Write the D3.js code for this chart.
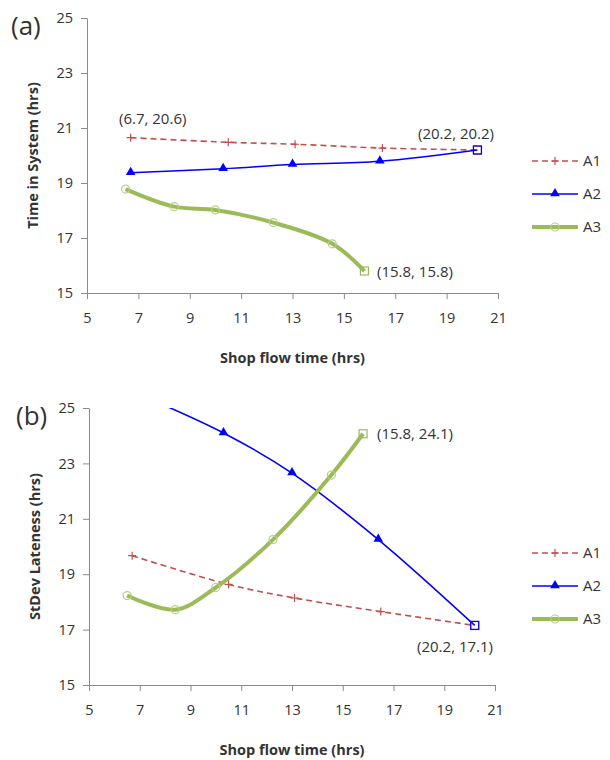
<!DOCTYPE html>
<html>
<head>
<meta charset="utf-8">
<script src="https://cdn.jsdelivr.net/npm/d3@7"></script>
<style>
  body { margin: 0; background: #fff; }
  text { font-family: "Open Sans", "Liberation Sans", sans-serif; fill: #333; }
</style>
</head>
<body>
<svg id="chart" width="610" height="760"></svg>
<script>
// shop flow time (x) for each series, shared by both panels
var xA1 = [6.7, 10.5, 13.1, 16.5, 20.2];
var xA2 = [6.7, 10.3, 13.0, 16.4, 20.2];
var xA3 = [6.5, 8.4, 10.0, 12.25, 14.55, 15.8];

// panel (a): time in system
var tisA1 = [20.65, 20.48, 20.41, 20.27, 20.2];
var tisA2 = [19.37, 19.52, 19.67, 19.79, 20.2];
var tisA3 = [18.78, 18.14, 18.02, 17.56, 16.79, 15.8];

// panel (b): stdev lateness
var sdA1 = [19.67, 18.63, 18.14, 17.65, 17.15];
var sdA2 = [25.6, 24.1, 22.65, 20.25, 17.15];
var sdA3 = [18.23, 17.72, 18.52, 20.25, 22.58, 24.07];

var seriesNames = ["A1", "A2", "A3"];
var xTicks = [5, 7, 9, 11, 13, 15, 17, 19, 21];
var yTicks = [15, 17, 19, 21, 23, 25];

var colors = {A1: "#C0504D", A2: "#0000FF", A3: "#9BBB59"};

var svg = d3.select("#chart");

function drawPanel(opt) {
  var x = d3.scaleLinear().domain([5, 21]).range([opt.left, opt.right]);
  var y = d3.scaleLinear().domain([15, 25]).range([opt.bottom, opt.top]);
  var g = svg.append("g");

  var clipId = "clip-" + opt.id;
  svg.append("clipPath").attr("id", clipId)
    .append("rect")
    .attr("x", opt.left).attr("y", opt.top)
    .attr("width", opt.right - opt.left + 20)
    .attr("height", opt.bottom - opt.top);

  // axes
  var xAxis = g.append("g")
    .attr("transform", "translate(0," + opt.bottom + ")")
    .call(d3.axisBottom(x).tickValues(xTicks).tickSize(6).tickSizeOuter(0).tickPadding(14));
  var yAxis = g.append("g")
    .attr("transform", "translate(" + opt.left + ",0)")
    .call(d3.axisLeft(y).tickValues(yTicks).tickSize(6).tickSizeOuter(0).tickPadding(8));
  [xAxis, yAxis].forEach(function(a) {
    a.select(".domain").attr("stroke", "#8a8a8a");
    a.selectAll(".tick line").attr("stroke", "#8a8a8a");
    a.selectAll(".tick text").style("font-size", "14.5px").attr("fill", "#333")
      .style("font-family", "'Open Sans', sans-serif");
  });

  g.append("text")
    .attr("x", (opt.left + opt.right) / 2).attr("y", opt.bottom + 70)
    .attr("text-anchor", "middle")
    .style("font-size", "14.5px").style("font-weight", "bold")
    .text("Shop flow time (hrs)");

  g.append("text")
    .attr("transform", "translate(" + opt.ytitleX + "," + ((opt.top + opt.bottom) / 2) + ") rotate(-90)")
    .attr("text-anchor", "middle")
    .attr("dy", "0.35em")
    .style("font-size", "14.5px").style("font-weight", "bold")
    .text(opt.ytitle);

  g.append("text")
    .attr("x", opt.tagX).attr("y", opt.top + 17)
    .style("font-size", "26px")
    .text(opt.tag);

  var series = [
    {name: "A1", xs: xA1, ys: opt.ys[0]},
    {name: "A2", xs: xA2, ys: opt.ys[1]},
    {name: "A3", xs: xA3, ys: opt.ys[2]}
  ];

  var line = d3.line()
    .x(function(d) { return x(d[0]); })
    .y(function(d) { return y(d[1]); })
    .curve(d3.curveCatmullRom.alpha(0.5));

  var plot = g.append("g").attr("clip-path", "url(#" + clipId + ")");

  series.forEach(function(s) {
    var pts = s.xs.map(function(v, i) { return [v, s.ys[i]]; });
    plot.append("path")
      .datum(pts)
      .attr("fill", "none")
      .attr("stroke", colors[s.name])
      .attr("stroke-width", s.name == "A3" ? 4 : 1.6)
      .attr("stroke-dasharray", s.name == "A1" ? "6,4" : null)
      .attr("d", line);
  });

  series.forEach(function(s) {
    var pts = s.xs.map(function(v, i) { return [v, s.ys[i]]; });
    var last = pts.length - 1;
    pts.forEach(function(p, i) {
      if (p[1] > 25) return;
      var cx = x(p[0]), cy = y(p[1]);
      if (i == last) {
        g.append("rect")
          .attr("x", cx - 4).attr("y", cy - 4).attr("width", 8).attr("height", 8)
          .attr("fill", "none").attr("stroke", colors[s.name]).attr("stroke-width", 1.2);
      } else {
        drawMarker(g, s.name, cx, cy);
      }
    });
  });

  // endpoint annotations
  opt.notes.forEach(function(n) {
    g.append("text")
      .attr("x", n.px).attr("y", n.py)
      .attr("text-anchor", n.anchor)
      .attr("dy", "0.35em")
      .style("font-size", "15px")
      .text(n.text);
  });

  // legend
  seriesNames.forEach(function(name, i) {
    var ly = opt.legendY + i * 33;
    g.append("line")
      .attr("x1", 532).attr("x2", 578).attr("y1", ly).attr("y2", ly)
      .attr("stroke", colors[name])
      .attr("stroke-width", name == "A3" ? 4 : 1.6)
      .attr("stroke-dasharray", name == "A1" ? "6,4" : null);
    drawMarker(g, name, 555, ly);
    g.append("text")
      .attr("x", 583).attr("y", ly).attr("dy", "0.35em")
      .style("font-size", "15px")
      .text(name);
  });
}

function drawMarker(sel, name, cx, cy) {
  if (name == "A1") {
    sel.append("path")
      .attr("d", "M" + (cx - 4) + "," + cy + "H" + (cx + 4) + "M" + cx + "," + (cy - 4) + "V" + (cy + 4))
      .attr("stroke", colors.A1).attr("stroke-width", 1.2);
  } else if (name == "A2") {
    sel.append("path")
      .attr("d", d3.symbol(d3.symbolTriangle, 40)())
      .attr("transform", "translate(" + cx + "," + (cy - 0.5) + ")")
      .attr("fill", colors.A2);
  } else {
    sel.append("circle")
      .attr("cx", cx).attr("cy", cy).attr("r", 4)
      .attr("fill", "none").attr("stroke", "#B5CF85").attr("stroke-width", 1.2);
  }
}

drawPanel({
  id: "a", tag: "(a)", tagX: 11,
  left: 87, right: 498, top: 18, bottom: 293,
  ytitle: "Time in System (hrs)", ytitleX: 33,
  ys: [tisA1, tisA2, tisA3],
  legendY: 161,
  notes: [
    {text: "(6.7, 20.6)", px: 119, py: 119, anchor: "start"},
    {text: "(20.2, 20.2)", px: 494, py: 134, anchor: "end"},
    {text: "(15.8, 15.8)", px: 377, py: 272, anchor: "start"}
  ]
});

drawPanel({
  id: "b", tag: "(b)", tagX: 16,
  left: 89, right: 495, top: 408, bottom: 685,
  ytitle: "StDev Lateness (hrs)", ytitleX: 35,
  ys: [sdA1, sdA2, sdA3],
  legendY: 553,
  notes: [
    {text: "(15.8, 24.1)", px: 377, py: 434, anchor: "start"},
    {text: "(20.2, 17.1)", px: 493, py: 647, anchor: "end"}
  ]
});
</script>
</body>
</html>
